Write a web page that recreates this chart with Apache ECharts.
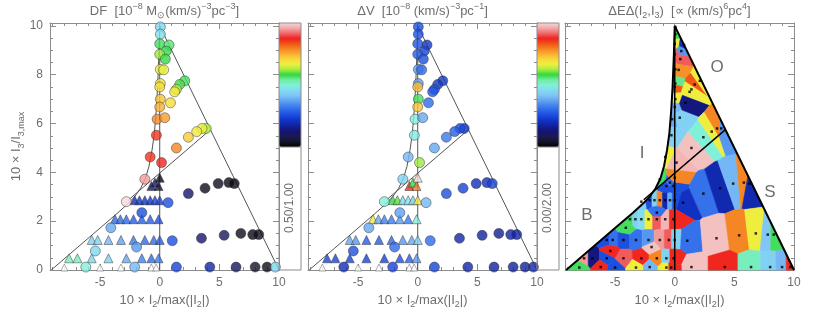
<!DOCTYPE html>
<html><head><meta charset="utf-8">
<script src="https://cdn.jsdelivr.net/npm/echarts@6/dist/echarts.min.js"></script>
<style>html,body{margin:0;padding:0;background:#fff}#c{width:830px;height:312px}</style>
</head><body><div id="c"></div>
<script>
// ---------------- DATA ----------------
// orbit positions (10*I2/max|I2|, 10*I3/I3max); shape 0=circle, 1=triangle
const ptX = [0.05,0.05,0.00,0.78,0.55,0.00,0.47,0.05,0.33,0.05,0.00,0.05,0.00,-0.22,0.42,-0.28,
  2.10,1.67,1.40,1.25,0.90,3.90,3.55,3.10,2.40,1.40,-0.80,0.15,-1.25,
  -0.70,-0.40,-0.10,0.00,
  2.40,3.80,4.90,5.80,6.25,
  -2.80,-2.10,-1.70,-1.25,-0.80,-0.40,0.00,0.70,
  -3.75,-3.30,-2.80,-2.20,-1.50,-0.80,-0.10,-1.50,-4.10,
  -5.70,-5.20,-4.30,-3.25,-2.20,-1.25,-0.50,0.00,-1.94,
  1.05,3.50,5.40,6.80,7.80,8.30,
  -7.60,-6.90,-5.70,-4.30,-2.80,-1.50,-0.70,-0.10,-5.40,
  -6.20,-2.10,1.40,4.20,6.40,8.00,9.00,9.70];
const ptY = [9.96,9.66,9.27,9.22,8.97,8.84,8.64,8.22,8.20,7.64,7.50,7.00,6.68,6.18,6.24,5.52,
  7.75,7.60,7.40,7.30,6.85,5.80,5.80,5.67,5.44,5.00,4.63,4.40,3.72,
  3.44,3.58,3.44,3.78,
  3.13,3.35,3.54,3.58,3.54,
  2.80,2.86,2.86,2.86,2.86,2.86,2.86,2.76,
  2.08,2.08,2.08,2.08,2.08,2.08,2.08,2.35,1.73,
  1.23,1.23,1.23,1.23,1.23,1.23,1.23,1.23,0.94,
  1.20,1.30,1.42,1.50,1.45,1.45,
  0.48,0.48,0.48,0.48,0.48,0.48,0.48,0.48,0.78,
  0.12,0.12,0.12,0.12,0.12,0.12,0.12,0.12];
const ptShape = [0,0,0,0,0,0,0,0,0,0,0,0,0,0,0,0,
  0,0,0,0,0,0,0,0,0,0,0,0,0,
  1,1,1,1,
  0,0,0,0,0,
  0,1,1,1,1,1,1,0,
  1,1,1,1,1,1,1,0,0,
  1,1,1,1,1,1,1,1,0,
  0,0,0,0,0,0,
  1,1,1,1,1,1,1,1,0,
  0,0,0,0,0,0,0,0];
// DF values (scale 0 .. 1.00)
const dfVal = [0.45,0.47,0.57,0.56,0.58,0.62,0.58,0.67,0.66,0.68,0.70,0.73,0.75,0.79,0.77,0.86,
  0.57,0.59,0.63,0.68,0.70,0.63,0.66,0.68,0.72,0.79,0.86,0.87,0.95,
  0.10,0.12,0.05,0.02,
  0.12,0.03,0.03,0.02,0.02,
  1.00,0.20,0.22,0.22,0.22,0.24,0.24,0.26,
  0.30,0.30,0.30,0.28,0.28,0.28,0.26,0.26,0.38,
  0.44,0.44,0.40,0.37,0.32,0.30,0.30,0.28,0.36,
  0.26,0.12,0.10,0.03,0.02,0.03,
  0.52,0.52,0.45,0.44,0.38,0.33,0.30,0.32,0.45,
  0.50,0.40,0.24,0.18,0.10,0.04,0.03,0.45];
// Delta V values (scale 0 .. 2.00)
const dvVal = [0.52,0.52,0.54,0.44,0.48,0.56,0.52,0.74,0.60,0.74,1.48,1.14,1.46,1.00,0.76,0.98,
  0.44,0.44,0.52,0.54,0.60,0.44,0.50,0.56,0.64,0.76,0.80,1.24,0.88,
  1.74,1.16,1.60,2.00,
  0.52,0.48,0.40,0.40,0.48,
  1.00,1.16,1.20,0.90,0.96,0.88,1.36,0.80,
  1.36,0.76,0.66,0.64,0.72,0.64,1.00,0.74,0.76,
  0.76,0.72,0.56,0.56,0.60,0.72,0.76,0.88,0.60,
  0.60,0.36,0.34,0.32,0.34,0.34,
  0.48,0.48,0.48,0.48,0.48,0.52,0.56,0.72,0.52,
  0.40,0.48,0.48,0.36,0.34,0.34,0.34,0.36];
// Delta E Delta(I2,I3) cell values (relative scale 0 .. 1)
const deVal = [0.26,0.57,0.67,0.21,0.36,0.91,0.91,0.78,0.78,0.55,0.83,0.67,0.40,0.38,0.44,0.44,
  0.67,0.83,0.67,0.67,0.14,0.36,0.79,0.67,0.50,0.98,0.67,0.97,0.57,
  0.26,0.31,0.26,0.79,
  0.31,0.19,0.40,0.79,0.19,
  0.44,0.26,0.44,0.79,0.19,0.38,0.26,0.21,
  0.57,0.44,0.46,0.67,0.91,0.97,0.87,0.31,0.57,
  0.26,0.31,0.26,0.31,0.36,0.95,0.91,0.44,0.98,
  0.31,0.98,0.79,0.67,0.42,0.57,
  0.95,0.14,0.26,0.91,0.87,0.79,0.44,0.87,0.87,
  0.87,0.40,0.98,0.87,0.52,0.44,0.40,0.87];
// zero-weight orbits (small open triangles on the bottom row)
const emptyX = [-8.0,-5.0,-3.25,-0.7,-0.3];
const emptyY = [0.10,0.10,0.10,0.10,0.10];
const emptyDe = [0.57,0.26,0.67,0.67,0.87];
// boundary of the allowed integral region and separatrices
const curveX = [-9.1,-7.0,-5.0,-3.5,-2.7,-2.1,-1.6,-1.2,-0.9,-0.65,-0.45,-0.3,-0.18,-0.08,0.0];
const curveY = [0.0,0.88,1.72,2.35,2.7,3.0,3.35,3.75,4.25,4.9,5.6,6.5,7.5,8.7,10.0];
const edgeX = [0,10], edgeY = [10,0];
const zeroX = [0,0], zeroY = [0,10];
const sepX = [-2.6,4.25], sepY = [2.88,5.75];
const xTicks = [-5,0,5,10];
const yTicks = [0,2,4,6,8,10];
const dfRange = [0,1], dvRange = [0,2];
const dfBoxText = '0.50/1.00', dvBoxText = '0.00/2.00';
const regionLabels = ['O','I','S','B'];

// ---------------- SETUP ----------------
const XMIN=-9.2, XMAX=10, YMIN=0, YMAX=10.12;
const AX='#8c8c8c', TX='#6e6e6e', FONT='Liberation Sans';
const CMAP=['#000000','#14142a','#1a1a50','#141470','#10209a','#1030c0','#1848dc','#2a64e8','#4282ee',
 '#62a4f2','#80c4f6','#80dcf0','#80f0d8','#70eca0','#30d840','#a8ee40','#eef040','#f8d838','#f8b030',
 '#f58424','#f05414','#f02020','#f06868','#f4a8a8','#f4d8d8'];
const xMinor=[]; for(let v=-9; v<=10; v++) xMinor.push(v);
const yMinor=[]; for(let v=0; v<=10.001; v+=0.5) yMinor.push(+v.toFixed(1));

const rich = {
  n:{fontSize:13,color:TX,fontFamily:FONT,lineHeight:18,verticalAlign:'middle'},
  sup:{fontSize:9,color:TX,fontFamily:FONT,lineHeight:9,verticalAlign:'top'},
  sub:{fontSize:9,color:TX,fontFamily:FONT,lineHeight:9,verticalAlign:'bottom'}
};
const titles = [
 '{n|DF  [10}{sup|−8}{n| M}{sub|⊙}{n|(km/s)}{sup|−3}{n|pc}{sup|−3}{n|]}',
 '{n|ΔV  [10}{sup|−8}{n| (km/s)}{sup|−3}{n|pc}{sup|−1}{n|]}',
 '{n|ΔEΔ(I}{sub|2}{n|,I}{sub|3}{n|)  [∝ (km/s)}{sup|6}{n|pc}{sup|4}{n|]}'
];
const xName = '{n|10 × I}{sub|2}{n|/max(|I}{sub|2}{n||)}';
const yName = '{n|10 × I}{sub|3}{n|/I}{sub|3,max}';

const grids = [50,308,565].map(l=>({left:l,top:23,width:229,height:247,containLabel:false,outerBoundsMode:'none'}));

const xAxes=[], yAxes=[];
function ax(base, len, vals, showLine, label){
  return Object.assign({type:'value', splitLine:{show:false},
    axisLine:{show:showLine,onZero:false,lineStyle:{color:AX,width:1}},
    axisTick:{show:true,inside:true,length:len,customValues:vals,lineStyle:{color:AX,width:1}},
    axisLabel: label ? {show:true,customValues:vals,color:TX,fontSize:12,fontFamily:FONT,margin:7} : {show:false}
  }, base);
}
for(let g=0; g<3; g++){
  const bx={gridIndex:g,min:XMIN,max:XMAX}, by={gridIndex:g,min:YMIN,max:YMAX};
  xAxes.push(ax(Object.assign({position:'bottom',name:xName,nameLocation:'middle',nameGap:20,nameTextStyle:{rich}},bx),6,xTicks,true,true));
  xAxes.push(ax(Object.assign({position:'bottom'},bx),3,xMinor,false,false));
  xAxes.push(ax(Object.assign({position:'top',name:titles[g],nameLocation:'middle',nameGap:3,nameTextStyle:{rich}},bx),6,xTicks,true,false));
  xAxes.push(ax(Object.assign({position:'top'},bx),3,xMinor,false,false));
  const yl = Object.assign({position:'left'},by);
  if(g===0) Object.assign(yl,{name:yName,nameLocation:'middle',nameGap:21,nameRotate:90,nameTextStyle:{rich}});
  yAxes.push(ax(yl,6,yTicks,true,g===0));
  yAxes.push(ax(Object.assign({position:'left'},by),3,yMinor,false,false));
  yAxes.push(ax(Object.assign({position:'right'},by),6,yTicks,true,false));
  yAxes.push(ax(Object.assign({position:'right'},by),3,yMinor,false,false));
}

const pair=(xs,ys)=>xs.map((x,i)=>[x,ys[i]]);
const series=[];
function lines(g,color,wCurve,wZero){
  const base={type:'line',xAxisIndex:g*4,yAxisIndex:g*4,symbol:'none',silent:true,animation:false,z:3};
  series.push(Object.assign({data:pair(curveX,curveY),lineStyle:{color,width:wCurve}},base));
  series.push(Object.assign({data:pair(edgeX,edgeY),lineStyle:{color,width:wCurve}},base));
  series.push(Object.assign({data:pair(zeroX,zeroY),lineStyle:{color,width:wZero}},base));
  series.push(Object.assign({data:pair(sepX,sepY),lineStyle:{color,width:wZero}},base));
}
const vIdx=[];
function points(g,vals){
  lines(g,'#555',1,1);
  vIdx.push(series.length);
  series.push({type:'scatter',xAxisIndex:g*4,yAxisIndex:g*4,clip:false,z:5,animation:false,
    data:ptX.map((x,i)=>[x,ptY[i],vals[i],ptShape[i]]),
    symbol:(v)=>v[3]===1?'triangle':'circle',
    symbolSize:(v)=>v[3]===1?9:10,
    itemStyle:{borderColor:'#333',borderWidth:0.6}});
  series.push({type:'scatter',xAxisIndex:g*4,yAxisIndex:g*4,clip:false,z:5,animation:false,
    data:pair(emptyX,emptyY),symbol:'triangle',symbolSize:7,
    itemStyle:{color:'#fff',borderColor:'#555',borderWidth:0.6}});
}
points(0,dfVal);
points(1,dvVal);

// Voronoi cells of panel 3 (metric in plot pixels: y weighted by the axis aspect)
const K = (247/YMAX)/(229/(XMAX-XMIN));
const seeds = pair(ptX,ptY).concat(pair(emptyX,emptyY));
const seedVal = deVal.concat(emptyDe);
const region = [[curveX[0],0],[edgeX[1],edgeY[1]],[edgeX[0],edgeY[0]]]
  .concat(pair(curveX,curveY).slice(1,-1).reverse());
function clipHalf(poly,a,b,c){
  const out=[];
  for(let i=0;i<poly.length;i++){
    const P=poly[i],Q=poly[(i+1)%poly.length];
    const fp=a*P[0]+b*P[1]-c, fq=a*Q[0]+b*Q[1]-c;
    if(fp<=0) out.push(P);
    if((fp<0&&fq>0)||(fp>0&&fq<0)){const t=fp/(fp-fq); out.push([P[0]+t*(Q[0]-P[0]),P[1]+t*(Q[1]-P[1])]);}
  }
  return out;
}
const cells = seeds.map((s,i)=>{
  let poly=region.slice();
  seeds.forEach((q,j)=>{
    if(j===i||poly.length===0) return;
    poly=clipHalf(poly,2*(q[0]-s[0]),2*K*K*(q[1]-s[1]),
      q[0]*q[0]-s[0]*s[0]+K*K*(q[1]*q[1]-s[1]*s[1]));
  });
  return poly;
});
const vorIdx = series.length;
series.push({type:'custom',xAxisIndex:8,yAxisIndex:8,z:2,animation:false,silent:true,
  data:seeds.map((s,i)=>[s[0],s[1],seedVal[i]]),encode:{x:0,y:1},
  renderItem:(params,api)=>{
    const c=api.visual('color'); const pts=cells[params.dataIndex];
    if(pts.length<3) return null;
    return {type:'polygon',shape:{points:pts.map(p=>api.coord(p))},
      style:{fill:c,stroke:c,lineWidth:0.6}};
  }});
lines(2,'#000',2,1.5);
series.push({type:'scatter',xAxisIndex:8,yAxisIndex:8,z:6,animation:false,silent:true,
  data:seeds,symbol:'rect',symbolSize:2.5,itemStyle:{color:'#000'}});

const vmBase={type:'continuous',dimension:2,calculable:false,orient:'vertical',itemWidth:22,itemHeight:124,
  top:23,padding:0,text:null,hoverLink:false,inRange:{color:CMAP}};
const visualMap=[
  Object.assign({seriesIndex:vIdx[0],min:dfRange[0],max:dfRange[1],left:279},vmBase),
  Object.assign({seriesIndex:vIdx[1],min:dvRange[0],max:dvRange[1],left:537},vmBase),
  {type:'continuous',show:false,seriesIndex:vorIdx,dimension:2,min:0,max:1,inRange:{color:CMAP}}
];

const graphic=[];
[[279,dfBoxText],[537,dvBoxText]].forEach(([x,t])=>{
  graphic.push({type:'rect',shape:{x:x,y:23,width:22,height:247},style:{fill:'none',stroke:AX,lineWidth:1},z:100});
  graphic.push({type:'line',shape:{x1:x,y1:147,x2:x+22,y2:147},style:{stroke:AX,lineWidth:1},z:100});
  graphic.push({type:'text',x:x+11,y:208,rotation:Math.PI/2,style:{text:t,fill:TX,fontSize:12,fontFamily:FONT,align:'center',verticalAlign:'middle'},z:100});
});
[[717,67],[642,153],[770,192],[587,215]].forEach((p,i)=>{
  graphic.push({type:'text',x:p[0],y:p[1],style:{text:regionLabels[i],fill:TX,fontSize:17,fontFamily:FONT,align:'center',verticalAlign:'middle'},z:100});
});

const chart=echarts.init(document.getElementById('c'));
chart.setOption({animation:false,backgroundColor:'#fff',grid:grids,xAxis:xAxes,yAxis:yAxes,series,visualMap,graphic});
</script></body></html>
